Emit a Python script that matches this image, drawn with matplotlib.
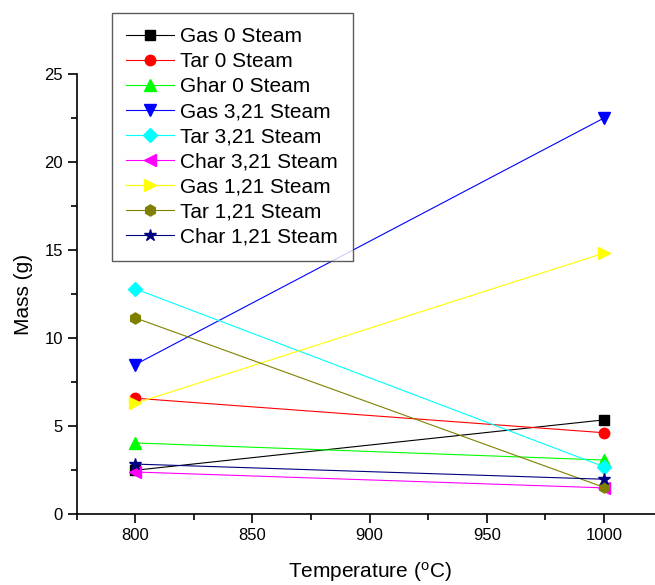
import matplotlib
matplotlib.use("Agg")
import matplotlib.pyplot as plt
from matplotlib.ticker import MultipleLocator

plt.rcParams['font.family'] = ['Liberation Sans', 'DejaVu Sans']
plt.rcParams['mathtext.fontset'] = 'custom'
plt.rcParams['mathtext.rm'] = 'Liberation Sans'

# data
temperature = [800, 1000]
labels = ["Gas 0 Steam", "Tar 0 Steam", "Ghar 0 Steam",
          "Gas 3,21 Steam", "Tar 3,21 Steam", "Char 3,21 Steam",
          "Gas 1,21 Steam", "Tar 1,21 Steam", "Char 1,21 Steam"]
gas_0 = [2.5, 5.36]
tar_0 = [6.59, 4.63]
char_0 = [4.05, 3.08]
gas_321 = [8.5, 22.5]
tar_321 = [12.8, 2.7]
char_321 = [2.4, 1.5]
gas_121 = [6.3, 14.83]
tar_121 = [11.15, 1.53]
char_121 = [2.85, 1.99]

series = [gas_0, tar_0, char_0, gas_321, tar_321, char_321, gas_121, tar_121, char_121]
colors = ['black', 'red', '#00ff00', 'blue', 'cyan', 'magenta', 'yellow', '#808000', '#000080']
markers = ['s', 'o', '^', 'v', 'D', '<', '>', 'h', '*']
msizes = [6.5, 7.5, 8, 8, 7, 8, 8, 8, 9]

fig = plt.figure(figsize=(6.55, 5.85), dpi=100)
ax = fig.add_axes([0.1171, 0.1209, 0.8944, 0.7526])

for vals, lab, c, m, ms in zip(series, labels, colors, markers, msizes):
    ax.plot(temperature, vals, color=c, marker=m, markersize=ms, linewidth=0.8,
            label=lab, clip_on=False)

ax.set_xlim(775, 1025)
ax.set_ylim(0, 25)
ax.xaxis.set_major_locator(MultipleLocator(50))
ax.xaxis.set_minor_locator(MultipleLocator(25))
ax.yaxis.set_major_locator(MultipleLocator(5))
ax.yaxis.set_minor_locator(MultipleLocator(2.5))
ax.spines['top'].set_visible(False)
ax.spines['right'].set_visible(False)
ax.spines['left'].set_linewidth(1.2)
ax.spines['bottom'].set_linewidth(1.2)
ax.tick_params(which='major', direction='out', length=6.5, width=1.2, labelsize=12)
ax.tick_params(which='minor', direction='out', length=4, width=1.2)

ax.set_xlabel("Temperature ($\\mathregular{^o}$C)", fontsize=15, labelpad=12)
ax.set_ylabel("Mass (g)", fontsize=15, labelpad=8)

leg = fig.legend(loc='upper left', bbox_to_anchor=(111.7 / 655, 1 - 12.7 / 585),
                 fontsize=15, frameon=True, fancybox=False, borderpad=0.7,
                 labelspacing=0.29, handlelength=2.3, handletextpad=0.3,
                 borderaxespad=0)
leg.get_frame().set_edgecolor('#333333')
leg.get_frame().set_linewidth(1.0)

fig.savefig("out.png", dpi=100)
